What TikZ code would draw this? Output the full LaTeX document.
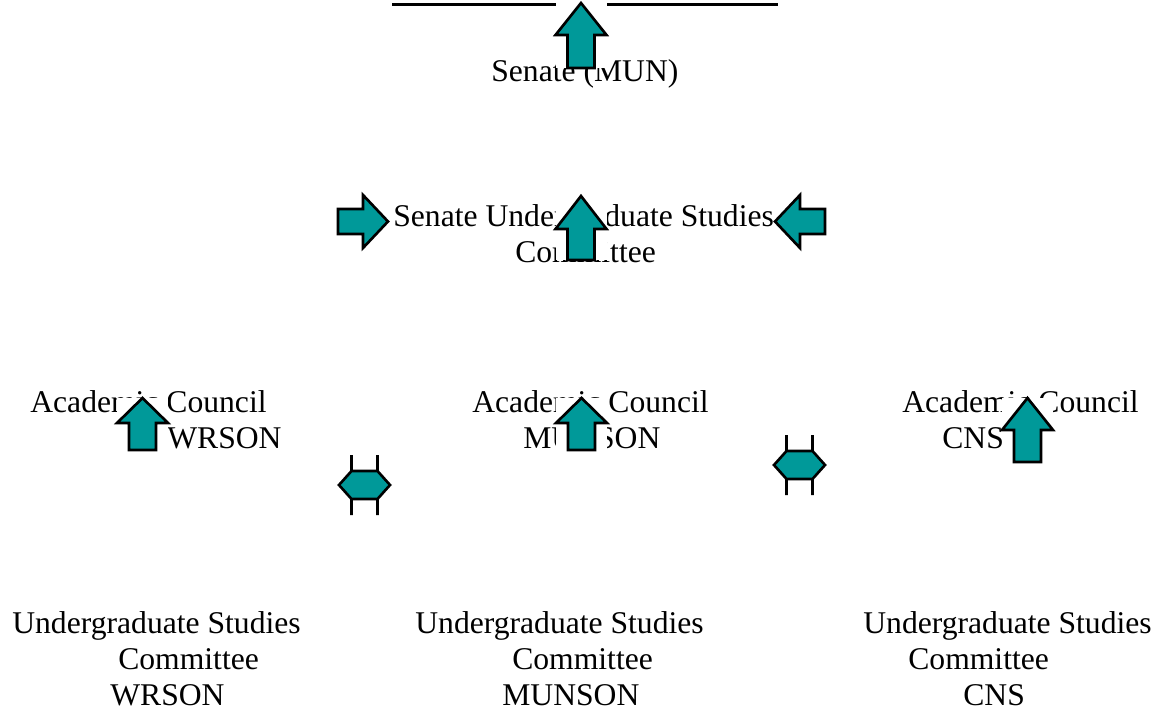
\documentclass[tikz,border=0pt]{standalone}
\usepackage{fontspec}
\setmainfont{Liberation Serif}

\definecolor{arrowteal}{RGB}{0,153,153}

\begin{document}
\begin{tikzpicture}[
        x=0.02cm, y=-0.02cm, % 1 unit = 1 px, y downwards
        every node/.style={inner sep=0pt, anchor=base west, align=left, font=\fontsize{18}{20.3}\selectfont},
        blockarrow/.style={draw=black, line width=1.5pt, fill=arrowteal, line join=miter},
        pics/uparrow/.style 2 args={code={
            \fill[white] (-25.5,0) rectangle (25.5,#2);
            \draw[blockarrow] (0,0) -- (25.5,#1) -- (13.5,#1) -- (13.5,#2) -- (-13.5,#2) -- (-13.5,#1) -- (-25.5,#1) -- cycle;
          }},
        pics/sidearrow/.style={code={
            \fill[white] (-50,-26.5) rectangle (0,26.5);
            \draw[blockarrow] (0,0) -- (-25,-26.5) -- (-25,-12.5) -- (-50,-12.5) -- (-50,12.5) -- (-25,12.5) -- (-25,26.5) -- cycle;
          }},
        pics/dblarrow/.style={code={
            \fill[arrowteal] (-25.5,0) -- (-13,-14) -- (13,-14) -- (25.5,0) -- (13,14) -- (-13,14) -- cycle;
            \draw[blockarrow, fill=none] (-13,-30) -- (-13,-14) -- (-25.5,0) -- (-13,14) -- (-13,30)
              (13,-30) -- (13,-14) -- (25.5,0) -- (13,14) -- (13,30)
              (-13,-14) -- (13,-14) (-13,14) -- (13,14);
          }}
      ]
      \useasboundingbox (0,0) rectangle (1167,713);

      % Top rule
      \draw[line width=0.06cm] (392,5) -- (778,5);

      % Nodes (anchored at the baseline of the last line)
      \node (senate) at (491,82) {Senate (MUN)};
      \node (susc) at (393,262) {Senate Undergraduate Studies\\\hspace*{2.44cm}Committee};
      \node (acwrson) at (30,448) {Academic Council\\\hspace*{2.74cm}WRSON};
      \node (acmunson) at (472,448) {Academic Council\\\hspace*{1.02cm}MUNSON};
      \node (accns) at (902,448) {Academic Council\\\hspace*{0.8cm}CNS};
      \node (ugwrson) at (12,705) {Undergraduate Studies\\\hspace*{2.12cm}Committee\\\hspace*{1.96cm}WRSON};
      \node (ugmunson) at (415,705) {Undergraduate Studies\\\hspace*{1.94cm}Committee\\\hspace*{1.74cm}MUNSON};
      \node (ugcns) at (863,705) {Undergraduate Studies\\\hspace*{0.9cm}Committee\\\hspace*{2.0cm}CNS};

      % Arrows
      \pic at (581,3) {uparrow={32}{65}};
      \pic at (581,196) {uparrow={33}{64}};
      \pic at (142.5,398) {uparrow={25}{52}};
      \pic at (581.5,398) {uparrow={25}{52}};
      \pic at (1027.5,398) {uparrow={32}{64}};
      \pic at (388,221.5) {sidearrow};
      \pic[xscale=-1] at (775,221.5) {sidearrow};
      \pic at (364.5,485) {dblarrow};
      \pic at (799.5,465) {dblarrow};

    \end{tikzpicture}
\end{document}
